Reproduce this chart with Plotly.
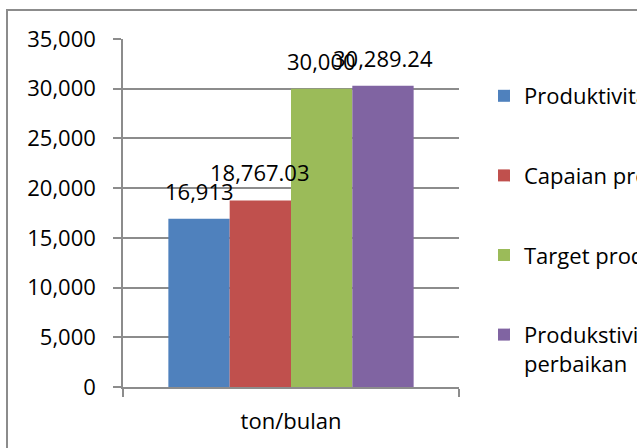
import plotly.graph_objects as go

# Monthly productivity comparison (ton/bulan)
categories = ["ton/bulan"]
series_names = [
    "Produktivitas saat ini",
    "Capaian produktivitas",
    "Target produktivitas",
    "Produkstivitas setelah<br>perbaikan",
]
series_values = [16913, 18767.03, 30000, 30289.24]
series_colors = ["#4F81BD", "#C0504D", "#9BBB59", "#8064A2"]
y_ticks = [0, 5000, 10000, 15000, 20000, 25000, 30000, 35000]

FONT = "Open Sans"
FS = 22
GRID = "#8c8c8c"
BARGAP = 0.27

W, H = 637, 448
M_L, M_R, M_T, M_B = 123, 178, 39, 61


def fmt(v):
    return f"{v:,.0f}" if float(v).is_integer() else f"{v:,.2f}"


fig = go.Figure()
for i, (name, val, col) in enumerate(zip(series_names, series_values, series_colors)):
    fig.add_trace(go.Bar(
        x=categories, y=[val], name=name,
        marker=dict(color=col, line=dict(width=0)),
        legendgroup=f"g{i}",
    ))

# value labels above each bar (grouped bar centres in category units)
n = len(series_values)
bw = (1 - BARGAP) / n
annotations = []
for i, val in enumerate(series_values):
    xc = 0 - (1 - BARGAP) / 2 + bw * (i + 0.5)
    annotations.append(dict(
        x=xc, y=val, xref="x", yref="y", text=fmt(val), showarrow=False,
        xanchor="center", yanchor="bottom", yshift=11,
        font=dict(family=FONT, size=FS, color="#000000"),
    ))

# outer chart frame
pw = W - M_L - M_R
ph = H - M_T - M_B
shapes = [dict(
    type="rect", xref="paper", yref="paper", layer="below",
    x0=(7 - M_L) / pw, x1=2.0,
    y0=-1.0, y1=(H - M_B - 10) / ph,
    line=dict(color=GRID, width=2), fillcolor="rgba(0,0,0,0)",
)]

fig.update_layout(
    width=W, height=H,
    margin=dict(l=M_L, r=M_R, t=M_T, b=M_B, autoexpand=False),
    paper_bgcolor="white", plot_bgcolor="white",
    barmode="group", bargap=BARGAP, bargroupgap=0,
    font=dict(family=FONT, size=FS, color="#000000"),
    showlegend=True,
    legend=dict(
        x=(504 - 20 - M_L) / pw, xanchor="left",
        y=1.0 - 36 / ph, yanchor="top",
        traceorder="grouped", tracegroupgap=48, valign="top",
        font=dict(family=FONT, size=FS, color="#000000"),
        bgcolor="rgba(0,0,0,0)", borderwidth=0,
    ),
    annotations=annotations,
    shapes=shapes,
    xaxis=dict(
        showgrid=False, showline=True, linecolor=GRID, linewidth=1.5,
        ticks="outside", tickson="boundaries", ticklen=8, tickcolor=GRID, tickwidth=1.5,
        ticklabelstandoff=14,
    ),
    yaxis=dict(
        range=[0, 35000], tickvals=y_ticks, tickformat=",",
        showgrid=True, gridcolor=GRID, gridwidth=1.5,
        showline=True, linecolor=GRID, linewidth=1.5,
        ticks="outside", ticklen=8, tickcolor=GRID, tickwidth=1.5,
        zeroline=False, ticklabelstandoff=13,
    ),
)

fig.write_html("out.html")
